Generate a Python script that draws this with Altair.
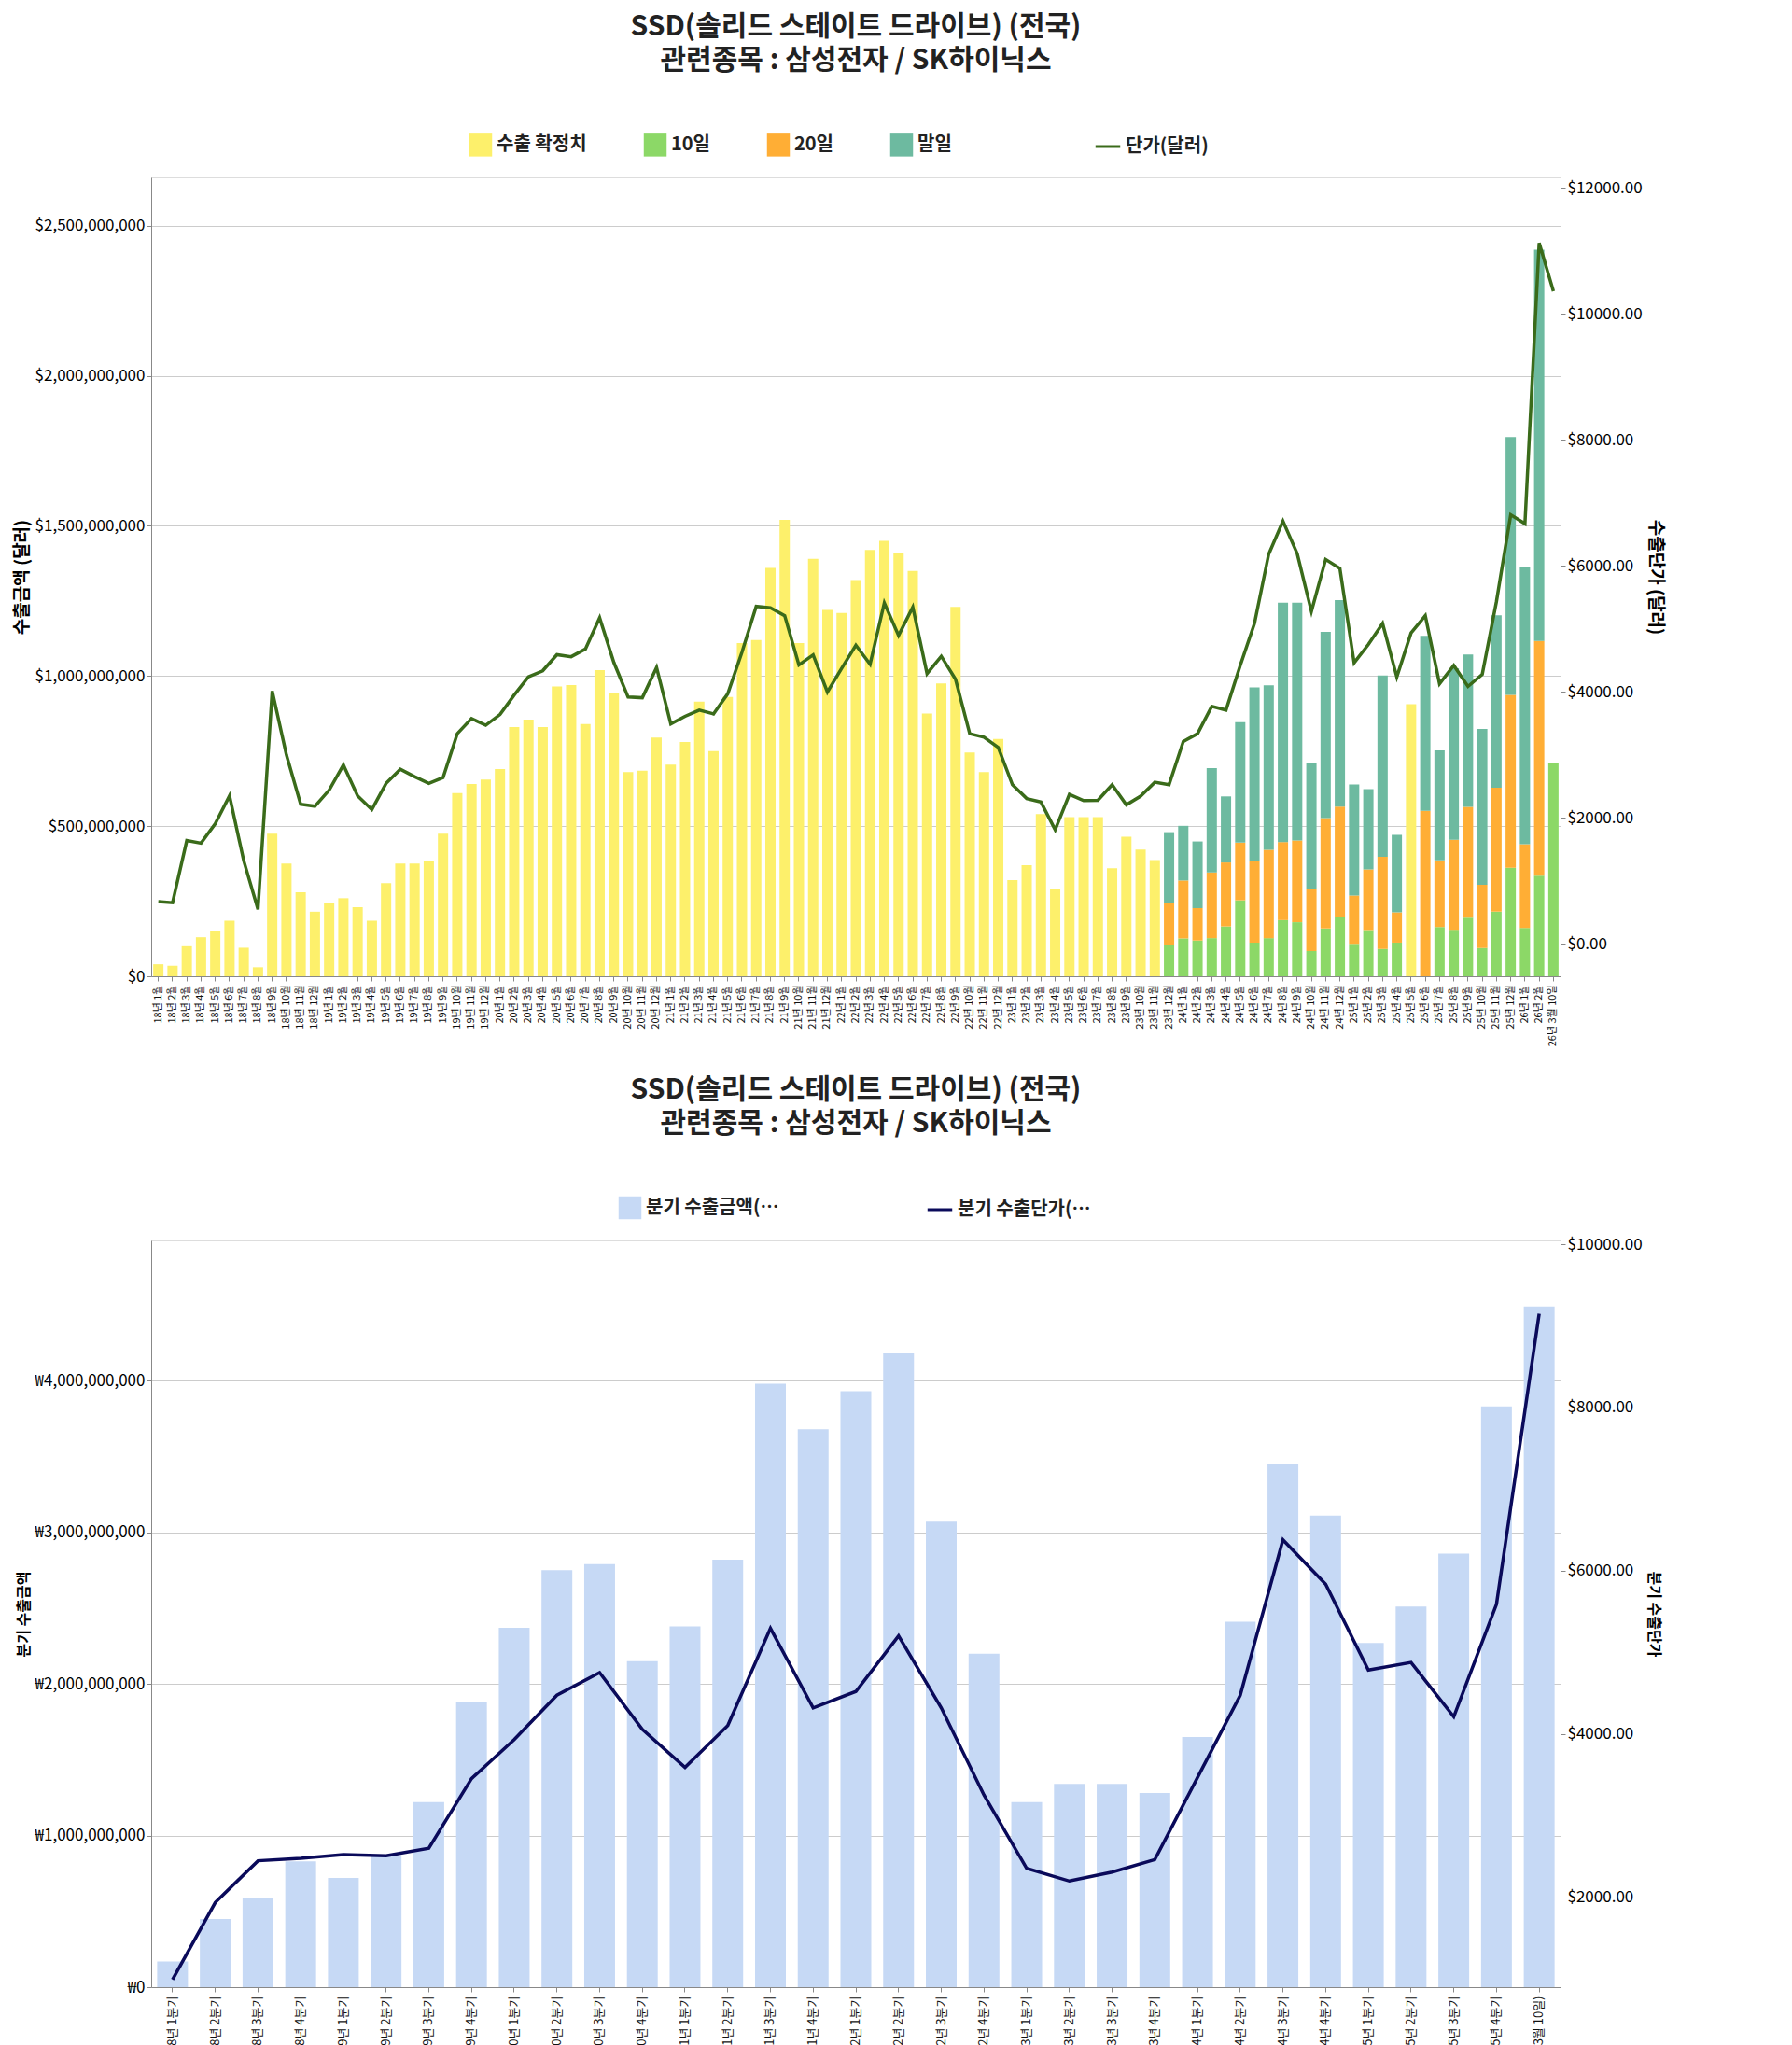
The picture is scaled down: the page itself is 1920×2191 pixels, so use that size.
import altair as alt
import pandas as pd

FONT = "Noto Sans CJK KR"

# --- monthly data (USD millions / USD per unit) ---
months = [f"{y}년 {m}월" for y in range(18, 26) for m in range(1, 13)] + ["26년 1월", "26년 2월", "26년 3월 10일"]

# confirmed monthly exports (18.1 - 23.11)
confirmed = [40, 35, 100, 130, 150, 185, 95, 30, 475, 375, 280, 215,
             245, 260, 230, 185, 310, 375, 375, 385, 475, 610, 640, 655,
             690, 830, 855, 830, 965, 970, 840, 1020, 945, 680, 685, 795,
             705, 780, 915, 750, 930, 1110, 1120, 1360, 1520, 1110, 1390, 1220,
             1210, 1320, 1420, 1450, 1410, 1350, 875, 975, 1230, 745, 680, 790,
             320, 370, 540, 290, 530, 530, 530, 360, 465, 422, 387]

# cumulative 10일 / 20일 / 말일 from 23.12 (None = confirmed only)
split_months = ["23년 12월"] + [f"24년 {m}월" for m in range(1, 13)] + [f"25년 {m}월" for m in range(1, 13)] + ["26년 1월", "26년 2월", "26년 3월 10일"]
cum_10 = [105, 126, 119, 127, 166, 253, 112, 127, 187, 180, 84, 159, 197,
          108, 154, 91, 112, None, 0, 164, 155, 195, 94, 215, 361, 161, 335, 709]
cum_20 = [244, 319, 227, 346, 379, 445, 384, 421, 447, 452, 290, 527, 565,
          269, 356, 398, 213, None, 551, 386, 455, 564, 305, 628, 937, 440, 1117, None]
cum_end = [480, 501, 449, 693, 599, 846, 962, 969, 1244, 1244, 710, 1147, 1253,
           639, 623, 1002, 471, 906, 1134, 752, 1026, 1072, 824, 1202, 1796, 1365, 2420, None]

price = [667, 650, 1637, 1595, 1904, 2347, 1317, 544, 4011, 2997, 2213, 2181,
         2437, 2837, 2347, 2128, 2544, 2768, 2651, 2544, 2635, 3333, 3573, 3467,
         3637, 3947, 4235, 4331, 4587, 4555, 4677, 5173, 4464, 3915, 3904, 4384,
         3488, 3609, 3708, 3647, 3967, 4628, 5355, 5333, 5207, 4424, 4584, 3994,
         4369, 4738, 4435, 5410, 4893, 5344, 4287, 4562, 4198, 3333, 3278, 3113,
         2523, 2303, 2248, 1807, 2369, 2270, 2275, 2523, 2204, 2342, 2562, 2523,
         3208, 3333, 3767, 3708, 4417, 5083, 6183, 6708, 6192, 5275, 6100, 5958,
         4458, 4750, 5083, 4233, 4933, 5208, 4125, 4417, 4083, 4275, 5433, 6808,
         6667, 11125, 10358]

# --- quarterly data ---
quarters = [f"{y}년 {q}분기" for y in range(18, 26) for q in range(1, 5)] + ["26년 1분기(3월 10일)"]
q_amount = [0.17, 0.45, 0.59, 0.83, 0.72, 0.87, 1.22, 1.88, 2.37, 2.75, 2.79, 2.15,
            2.38, 2.82, 3.98, 3.68, 3.93, 4.18, 3.07, 2.20, 1.22, 1.34, 1.34, 1.28,
            1.65, 2.41, 3.45, 3.11, 2.27, 2.51, 2.86, 3.83, 4.49]
q_price = [990, 1935, 2446, 2477, 2523, 2508, 2600, 3452, 3932, 4474, 4752, 4056,
           3591, 4102, 5294, 4319, 4520, 5201, 4319, 3251, 2353, 2198, 2307, 2461,
           3467, 4474, 6378, 5836, 4783, 4876, 4211, 5588, 9149]

# --- build tables ---
rows = []
for mth, v in zip(months, confirmed):
    rows.append({"month": mth, "type": "수출 확정치", "value": v * 1e6, "ord": 0})
for mth, a, b, c in zip(split_months, cum_10, cum_20, cum_end):
    if a is None and b is None:
        rows.append({"month": mth, "type": "수출 확정치", "value": c * 1e6, "ord": 0})
        continue
    rows.append({"month": mth, "type": "10일", "value": a * 1e6, "ord": 1})
    if b is not None:
        rows.append({"month": mth, "type": "20일", "value": (b - a) * 1e6, "ord": 2})
    if c is not None:
        rows.append({"month": mth, "type": "말일", "value": (c - b) * 1e6, "ord": 3})
df_bar = pd.DataFrame(rows)
df_price = pd.DataFrame({"month": months, "price": price})

df_q = pd.DataFrame({"quarter": quarters, "amount": [v * 1e9 for v in q_amount], "price": q_price})

title_cfg = dict(fontSize=30, font=FONT, fontWeight="bold", color="#222", anchor="middle", offset=62, lineHeight=36)
leg = dict(title=None, orient="none", direction="horizontal", labelFontSize=20, labelFont=FONT,
           labelFontWeight="bold", labelColor="#222")

W = 1510

# --- top chart ---
x_m = alt.X("month:N", sort=months, title=None,
            axis=alt.Axis(labelAngle=-90, labelFontSize=11, labelFont=FONT, labelPadding=4, labelColor="#111"))

bars = alt.Chart(df_bar).mark_bar(size=11).encode(
    x=x_m,
    y=alt.Y("value:Q", stack="zero", title="수출금액 (달러)",
            scale=alt.Scale(domain=[0, 2661e6], nice=False),
            axis=alt.Axis(format="$,.0f", values=[0, 5e8, 1e9, 1.5e9, 2e9, 2.5e9], labelFontSize=17,
                          titleFontSize=19, labelFont=FONT, titleFont=FONT, gridColor="#ccc")),
    color=alt.Color("type:N",
                    scale=alt.Scale(domain=["수출 확정치", "10일", "20일", "말일"],
                                    range=["#fdf06b", "#8cd867", "#ffae35", "#6dbaa0"]),
                    legend=alt.Legend(**leg, legendX=340, legendY=-48, symbolType="square",
                                      symbolSize=600, columnPadding=60)),
    order=alt.Order("ord:Q"),
)

line = alt.Chart(df_price).mark_line(strokeWidth=3.5, color="#3a6b1a").encode(
    x=x_m,
    y=alt.Y("price:Q", title="수출단가 (달러)",
            scale=alt.Scale(domain=[-518, 12166], nice=False),
            axis=alt.Axis(format="$.2f", values=[0, 2000, 4000, 6000, 8000, 10000, 12000], labelFontSize=17,
                          titleFontSize=19, labelFont=FONT, titleFont=FONT, orient="right", grid=False)),
    stroke=alt.Stroke("k:N", scale=alt.Scale(range=["#3a6b1a"]),
                      legend=alt.Legend(**leg, legendX=1010, legendY=-48, symbolType="stroke",
                                        symbolStrokeWidth=3, symbolSize=700)),
).transform_calculate(k="'단가(달러)'")

top = alt.layer(bars, line).resolve_scale(y="independent", color="independent", stroke="independent").properties(
    width=W, height=856,
    title=alt.TitleParams(["SSD(솔리드 스테이트 드라이브) (전국)", "관련종목 : 삼성전자 / SK하이닉스"], **title_cfg),
)

# --- bottom chart ---
x_q = alt.X("quarter:N", sort=quarters, title=None,
            axis=alt.Axis(labelAngle=-90, labelFontSize=13, labelFont=FONT, labelPadding=4, labelColor="#111"))

qbars = alt.Chart(df_q).mark_bar(size=33, color="#c6d9f5").encode(
    x=x_q,
    y=alt.Y("amount:Q", title="분기 수출금액",
            scale=alt.Scale(domain=[0, 4.925e9], nice=False),
            axis=alt.Axis(values=[0, 1e9, 2e9, 3e9, 4e9], labelExpr="'₩' + format(datum.value, ',.0f')",
                          labelFontSize=17, titleFontSize=16, labelFont=FONT, titleFont=FONT, gridColor="#ccc")),
    fill=alt.Fill("k:N", scale=alt.Scale(range=["#c6d9f5"]),
                  legend=alt.Legend(**leg, legendX=500, legendY=-48, symbolType="square", symbolSize=600)),
).transform_calculate(k="'분기 수출금액(달러)'")

qline = alt.Chart(df_q).mark_line(strokeWidth=3.5, color="#0a0a5a").encode(
    x=x_q,
    y=alt.Y("price:Q", title="분기 수출단가",
            scale=alt.Scale(domain=[898, 10046], nice=False),
            axis=alt.Axis(format="$.2f", values=[2000, 4000, 6000, 8000, 10000], labelFontSize=17,
                          titleFontSize=16, labelFont=FONT, titleFont=FONT, orient="right", grid=False)),
    stroke=alt.Stroke("k:N", scale=alt.Scale(range=["#0a0a5a"]),
                      legend=alt.Legend(**leg, legendX=830, legendY=-48, symbolType="stroke",
                                        symbolStrokeWidth=3, symbolSize=700)),
).transform_calculate(k="'분기 수출단가(달러)'")

bottom = alt.layer(qbars, qline).resolve_scale(y="independent", fill="independent", stroke="independent").properties(
    width=W, height=800,
    title=alt.TitleParams(["SSD(솔리드 스테이트 드라이브) (전국)", "관련종목 : 삼성전자 / SK하이닉스"], **title_cfg),
)

chart = alt.vconcat(top, bottom, spacing=30).configure_view(stroke="#bbb").configure_axis(
    domainColor="#999", tickColor="#333"
).configure(font=FONT)

chart.save("out.html", embed_options={"renderer": "svg", "actions": False})
